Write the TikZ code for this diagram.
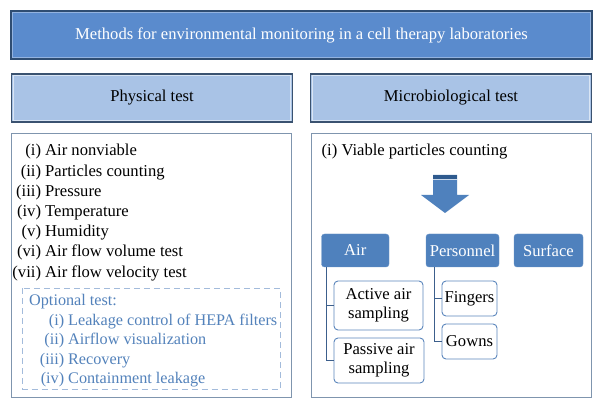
\documentclass[tikz,border=0pt]{standalone}
\usepackage{fontspec}
\setmainfont{Liberation Serif}
\definecolor{titlefill}{HTML}{5A8BCD}
\definecolor{titledark}{HTML}{2F4D72}
\definecolor{titlelight}{HTML}{93B3E0}
\definecolor{headfill}{HTML}{A9C3E6}
\definecolor{headdark}{HTML}{3A5270}
\definecolor{headlight}{HTML}{D9E5F4}
\definecolor{bodyborder}{HTML}{7F95AE}
\definecolor{dashcol}{HTML}{A3BBDB}
\definecolor{opttext}{HTML}{5382BB}
\definecolor{boxblue}{HTML}{4F81BD}
\definecolor{subborder}{HTML}{5B86BC}
\definecolor{conncol}{HTML}{3C5F8C}
\definecolor{arrowdark}{HTML}{2E5A8E}
\tikzset{
  x=1pt, y=-1pt,
  txt/.style={font=\fontsize{16.6}{19}\selectfont, inner sep=0pt},
  opttxt/.style={font=\fontsize{16.2}{19}\selectfont, inner sep=0pt, text=opttext},
  titlebox/.style={draw=titledark, line width=1.5pt, fill=titlefill, text=white, inner sep=0pt, font=\fontsize{16.6}{19}\selectfont},
  headbox/.style={draw=headdark, line width=1.5pt, fill=headfill, text=black, inner sep=0pt, font=\fontsize{16.6}{19}\selectfont},
  bodybox/.style={draw=bodyborder, line width=0.9pt},
  dashbox/.style={draw=dashcol, line width=1pt, dash pattern=on 6pt off 4pt},
  catbox/.style={draw=boxblue!85!white, fill=boxblue, rounded corners=3pt, text=white, inner sep=0pt, font=\fontsize{16.6}{19}\selectfont},
  subbox/.style={draw=subborder, line width=0.9pt, fill=white, rounded corners=4pt, inner sep=0pt, align=center, font=\fontsize{16.6}{19.5}\selectfont},
  conn/.style={draw=conncol, line width=0.9pt},
  bevel/.style={line width=0.8pt}
}
\begin{document}
\begin{tikzpicture}
\useasboundingbox (0,0) rectangle (604,411);
\fill[white] (0,0) rectangle (604,411);

% title
\node[titlebox, minimum width=581pt, minimum height=48pt] (title) at (301.5,35) {Methods for environmental monitoring in a cell therapy laboratories};
\draw[bevel, titlelight] ([xshift=2.5pt,yshift=-2.5pt]title.north west) rectangle ([xshift=-2.5pt,yshift=2.5pt]title.south east);

% headers
\node[headbox, minimum width=281pt, minimum height=48pt] (phys) at (152,98) {Physical test};
\draw[bevel, headlight] ([xshift=2.5pt,yshift=-2.5pt]phys.north west) rectangle ([xshift=-2.5pt,yshift=2.5pt]phys.south east);
\node[headbox, minimum width=281pt, minimum height=48pt] (micro) at (451,98) {Microbiological test};
\draw[bevel, headlight] ([xshift=2.5pt,yshift=-2.5pt]micro.north west) rectangle ([xshift=-2.5pt,yshift=2.5pt]micro.south east);

% body boxes
\draw[bodybox] (11.5,133) rectangle (291,397);
\draw[bodybox] (311.5,133) rectangle (591,397);
\draw[dashbox] (22.5,288) rectangle (280,389);

% physical list
\node[txt, anchor=base west] (l1) at (45,156) {\llap{(i)\ }Air nonviable};
\node[txt, anchor=base west] (l2) at (45,176.2) {\llap{(ii)\ }Particles counting};
\node[txt, anchor=base west] (l3) at (45,196.4) {\llap{(iii)\ }Pressure};
\node[txt, anchor=base west] (l4) at (45,216.6) {\llap{(iv)\ }Temperature};
\node[txt, anchor=base west] (l5) at (45,236.8) {\llap{(v)\ }Humidity};
\node[txt, anchor=base west] (l6) at (45,257) {\llap{(vi)\ }Air flow volume test};
\node[txt, anchor=base west] (l7) at (45,277.2) {\llap{(vii)\ }Air flow velocity test};

% optional
\node[opttxt, anchor=base west] (opt) at (29,305) {Optional test:};
\node[opttxt, anchor=base west] (o1) at (68,325) {\llap{(i)\ }Leakage control of HEPA filters};
\node[opttxt, anchor=base west] (o2) at (68,344.5) {\llap{(ii)\ }Airflow visualization};
\node[opttxt, anchor=base west] (o3) at (68,364) {\llap{(iii)\ }Recovery};
\node[opttxt, anchor=base west] (o4) at (68,383.5) {\llap{(iv)\ }Containment leakage};

% microbiological
\node[txt, anchor=base west] (viable) at (321.5,156) {(i) Viable particles counting};

% block arrow
\fill[boxblue] (433,175) -- (457,175) -- (457,195) -- (469,195) -- (445,213) -- (421,195) -- (433,195) -- cycle;
\fill[arrowdark] (433,175) rectangle (457,179);
\draw[white!70!boxblue, line width=0.6pt] (433,179.5) -- (457,179.5);

% categories
\node[catbox, minimum width=67.5pt, minimum height=33pt] (air) at (355.25,250.5) {Air};
\node[catbox, minimum width=73pt, minimum height=33pt] (pers) at (462.5,250.5) {Personnel};
\node[catbox, minimum width=69pt, minimum height=33pt] (surf) at (548.5,250.5) {Surface};

% sub boxes
\node[subbox, minimum width=89pt, minimum height=49pt] (active) at (378.5,305.5) {Active air\\sampling};
\node[subbox, minimum width=90pt, minimum height=45pt] (passive) at (379,360.5) {Passive air\\sampling};
\node[subbox, minimum width=55pt, minimum height=35pt] (fingers) at (469.5,298.5) {Fingers};
\node[subbox, minimum width=55pt, minimum height=35pt] (gowns) at (469.5,341.5) {Gowns};

% connectors
\coordinate (airc) at ([xshift=5.5pt]air.south west);
\coordinate (persc) at ([xshift=9pt]pers.south west);
\draw[conn] (airc) |- (passive.west);
\draw[conn] (airc) |- (active.west);
\draw[conn] (persc) |- (gowns.west);
\draw[conn] (persc) |- (fingers.west);
\end{tikzpicture}
\end{document}
